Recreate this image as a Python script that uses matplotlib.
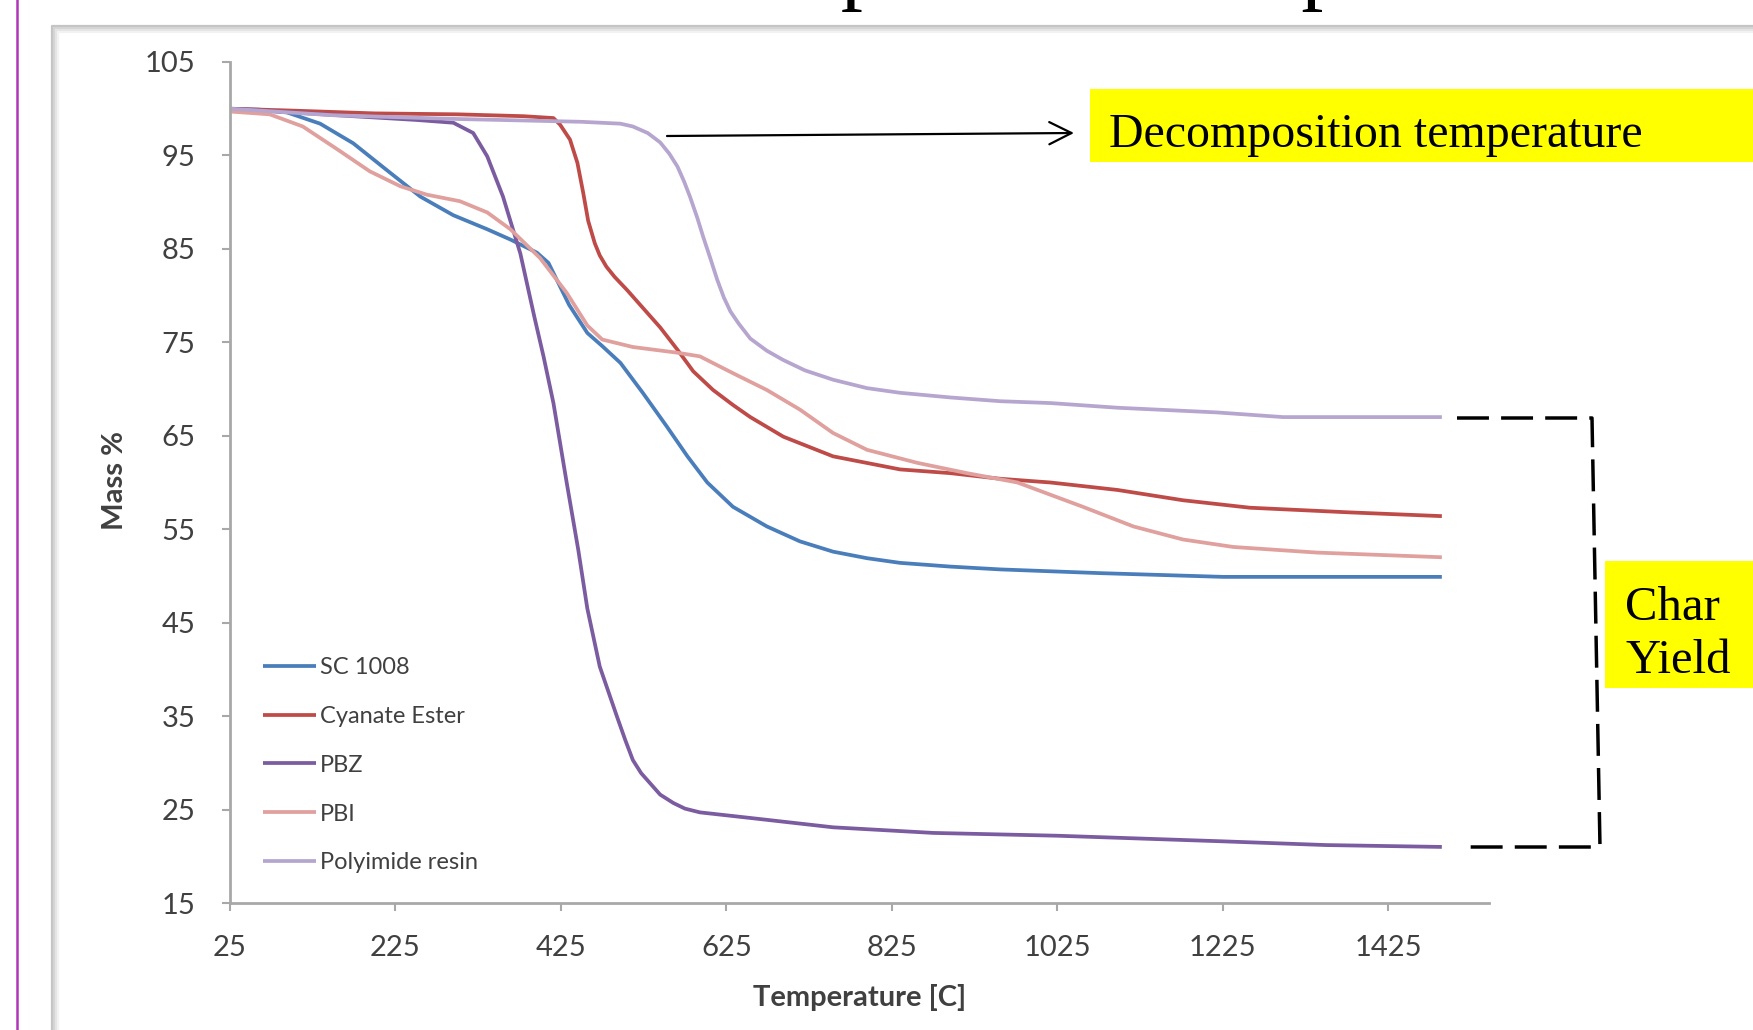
import matplotlib
matplotlib.use("Agg")
import matplotlib.pyplot as plt
from matplotlib.lines import Line2D
from matplotlib.patches import Rectangle, FancyArrowPatch

# ---------------- data ----------------
series_names = ["SC 1008", "Cyanate Ester", "PBZ", "PBI", "Polyimide resin"]
series_colors = ["#4A7EBB", "#BE4B48", "#7B5CA0", "#E0A09D", "#B6A6CF"]

temp_sc1008 = [25, 60, 94, 134, 174, 215, 255, 295, 336, 364, 396, 410, 420, 435, 457, 475,
               497, 524, 553, 578, 602, 633, 674, 714, 754, 795, 835, 896, 956, 1077, 1226, 1350, 1490]
mass_sc1008 = [100.0, 99.9, 99.6, 98.4, 96.3, 93.4, 90.6, 88.6, 87.1, 86.0, 84.6, 83.5, 81.7, 79.0, 76.0, 74.6,
               72.8, 69.6, 66.0, 62.8, 60.0, 57.4, 55.3, 53.7, 52.6, 51.9, 51.4, 51.0, 50.7, 50.3, 49.9, 49.9, 49.9]

temp_cyanate = [25, 100, 200, 300, 380, 416, 424, 436, 445, 452, 458, 466, 472, 480, 490, 505, 521, 545,
                566, 585, 609, 633, 654, 694, 754, 835, 896, 956, 1017, 1098, 1177, 1258, 1379, 1490]
mass_cyanate = [100.0, 99.8, 99.5, 99.4, 99.2, 99.0, 98.3, 96.7, 94.2, 91.0, 88.0, 85.6, 84.3, 83.1, 82.0, 80.6, 79.0, 76.6,
                74.2, 71.9, 69.9, 68.3, 67.0, 64.9, 62.8, 61.4, 61.0, 60.4, 60.0, 59.2, 58.1, 57.3, 56.8, 56.4]

temp_pbz = [25, 100, 174, 250, 295, 319, 336, 355, 376, 393, 404, 416, 432, 446, 457, 472, 493, 503, 512,
            522, 533, 545, 561, 575, 593, 654, 754, 875, 1025, 1225, 1350, 1490]
mass_pbz = [100.0, 99.6, 99.2, 98.8, 98.5, 97.4, 94.9, 90.6, 84.5, 77.7, 73.5, 68.5, 60.0, 52.8, 46.5, 40.3, 34.9, 32.4, 30.3,
            28.9, 27.8, 26.6, 25.7, 25.1, 24.7, 24.1, 23.1, 22.5, 22.2, 21.6, 21.2, 21.0]

temp_pbi = [25, 73, 113, 154, 194, 231, 263, 303, 336, 364, 400, 432, 457, 475, 512, 565, 593, 633,
            674, 714, 754, 795, 856, 916, 977, 1056, 1117, 1177, 1238, 1339, 1490]
mass_pbi = [99.7, 99.4, 98.1, 95.7, 93.3, 91.7, 90.8, 90.1, 88.9, 87.1, 84.0, 80.3, 76.8, 75.3, 74.5, 73.9, 73.5, 71.7,
            69.9, 67.8, 65.3, 63.5, 62.1, 61.0, 60.0, 57.4, 55.3, 53.9, 53.1, 52.5, 52.0]

temp_polyimide = [25, 150, 300, 450, 497, 512, 530, 545, 556, 566, 574, 581, 590, 597, 606, 614, 622, 630,
                  640, 654, 674, 694, 720, 754, 795, 835, 896, 956, 1017, 1098, 1218, 1298, 1490]
mass_polyimide = [100.0, 99.3, 98.9, 98.6, 98.4, 98.1, 97.4, 96.4, 95.2, 93.8, 92.2, 90.6, 88.3, 86.3, 83.9, 81.7, 79.8, 78.3,
                  77.0, 75.4, 74.1, 73.1, 72.0, 71.0, 70.1, 69.6, 69.1, 68.7, 68.5, 68.0, 67.5, 67.0, 67.0]

x_ticks = [25, 225, 425, 625, 825, 1025, 1225, 1425]
y_ticks = [15, 25, 35, 45, 55, 65, 75, 85, 95, 105]

x_label = "Temperature [C]"
y_label = "Mass %"
title_text = "Decomposition Temperature"
decomp_text = "Decomposition temperature"
char_text = "Char\nYield"

# ---------------- figure ----------------
W, H = 1753, 1030
fig = plt.figure(figsize=(W / 100, H / 100), dpi=100)
fig.patch.set_facecolor("white")


def fx(px):
    return px / W


def fy(py):
    return 1 - py / H


# slide accent bar
fig.add_artist(Line2D([fx(17), fx(17)], [0, 1], color="#B036B8", lw=1.8,
                      transform=fig.transFigure))

# chart panel frame with soft shadow
for off, col in [(0, "#c4c4c4"), (2, "#d4d4d4"), (4, "#e4e4e4"), (6, "#f2f2f2")]:
    fig.add_artist(Line2D([fx(52 + off), fx(52 + off), 1.01], [-0.01, fy(26 + off), fy(26 + off)],
                          color=col, lw=1.6, transform=fig.transFigure))

# slide title (mostly above the visible area, as in the reference)
fig.text(fx(586), 1 + 6.6 / H, title_text, family="Liberation Serif", fontsize=63.5,
         va="baseline", ha="left", color="black")

# ---------------- axes ----------------
ax = fig.add_axes([fx(230), fy(903), (1489 - 230) / W, (903 - 62) / H])
ax.set_xlim(25, 1547)
ax.set_ylim(15, 105)

series_data = [
    (temp_sc1008, mass_sc1008),
    (temp_cyanate, mass_cyanate),
    (temp_pbz, mass_pbz),
    (temp_pbi, mass_pbi),
    (temp_polyimide, mass_polyimide),
]
for (t, m), name, col in zip(series_data, series_names, series_colors):
    ax.plot(t, m, color=col, lw=2.7, label=name, solid_capstyle="butt", solid_joinstyle="round")

for s in ["top", "right"]:
    ax.spines[s].set_visible(False)
for s in ["left", "bottom"]:
    ax.spines[s].set_color("#a8a8a8")
    ax.spines[s].set_linewidth(2.0)

ax.set_xticks(x_ticks)
ax.set_yticks(y_ticks)
ax.tick_params(direction="out", length=5.8, width=1.5, color="#a8a8a8",
               labelsize=21, labelcolor="#404040")
ax.tick_params(axis="y", pad=19)
ax.tick_params(axis="x", pad=17)
for lab in ax.get_xticklabels() + ax.get_yticklabels():
    lab.set_family("Lato")

ax.set_xlabel(x_label, family="Lato", fontweight="bold", fontsize=21, color="#404040")
ax.set_ylabel(y_label, family="Lato", fontweight="bold", fontsize=21, color="#404040")
ax.xaxis.label.set_va("center")
ax.yaxis.label.set_va("center")
ax.xaxis.set_label_coords(0.5, -0.112)
ax.yaxis.set_label_coords(-0.0913, 0.502)

leg = ax.legend(loc="upper left", bbox_to_anchor=(fx(263), fy(657)), bbox_transform=fig.transFigure,
                frameon=False, prop={"family": "Lato", "size": 17}, handlelength=2.25,
                handletextpad=0.17, labelspacing=1.18, borderpad=0, borderaxespad=0)
for txt in leg.get_texts():
    txt.set_color("#404040")

# ---------------- annotations ----------------
fig.add_artist(Rectangle((fx(1090), fy(162)), 1.0, (162 - 89) / H, facecolor="#FFFF00",
                         edgecolor="none", transform=fig.transFigure))
fig.text(fx(1109), fy(147), decomp_text, family="Liberation Serif", fontsize=34.5,
         va="baseline", ha="left", color="black")
fig.add_artist(FancyArrowPatch((fx(667), fy(136)), (fx(1074), fy(133)), transform=fig.transFigure,
                               arrowstyle="->,head_length=0.4,head_width=0.2", mutation_scale=40,
                               lw=1.6, color="black", shrinkA=0, shrinkB=0))

fig.add_artist(Rectangle((fx(1605), fy(688)), 1.0, (688 - 561) / H, facecolor="#FFFF00",
                         edgecolor="none", transform=fig.transFigure))
fig.text(fx(1625), fy(673), char_text, family="Liberation Serif", fontsize=35,
         va="baseline", ha="left", color="black", linespacing=1.26)

bx = [1457, 1592, 1600, 1468]
by = [418, 418, 847, 847]
fig.add_artist(Line2D([fx(v) for v in bx], [fy(v) for v in by], color="black", lw=2.5,
                      dashes=(9.2, 3.5), transform=fig.transFigure))

fig.savefig("out.png", dpi=100)
